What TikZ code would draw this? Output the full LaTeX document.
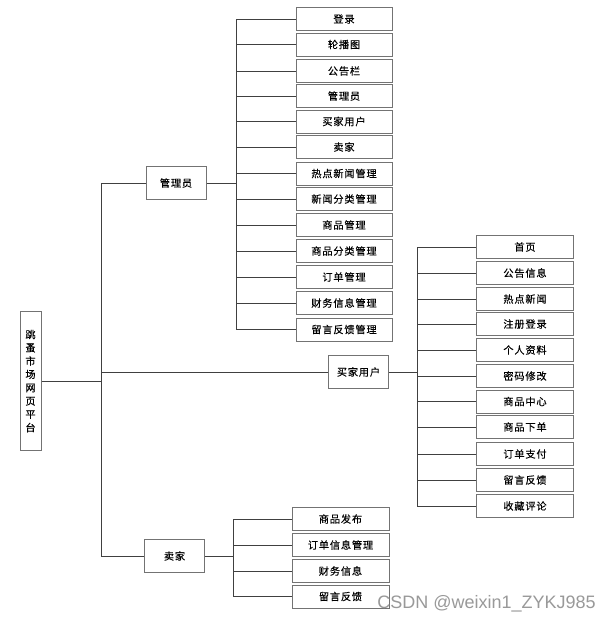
\documentclass[tikz,border=0pt]{standalone}
\usepackage{fontspec}
\newfontfamily\cjk[LetterSpace=8,FakeBold=0.3]{Noto Sans CJK SC}
\setmainfont{Liberation Sans}
\begin{document}
\begin{tikzpicture}[x=1pt,y=-1pt,
  box/.style={draw=black!55,line width=1pt,minimum height=23pt,inner sep=0pt,font=\cjk\fontsize{10.2}{12}\selectfont,fill=white},
  leaf/.style={box,minimum width=97pt},
  mid/.style={box,minimum width=60pt,minimum height=33pt},
  conn/.style={draw=black!75,line width=0.8pt}]
\useasboundingbox[fill=white] (0,0) rectangle (612,622);
% root
\node[box,minimum width=21pt,minimum height=139pt,align=center,font=\cjk\fontsize{10.2}{13.3}\selectfont] (root) at (30.5,381) {跳\\蚤\\市\\场\\网\\页\\平\\台};
% level 1
\node[mid] (mgr) at (176,183) {管理员};
\node[mid] (buy) at (358.5,372) {买家用户};
\node[mid] (sell) at (174.5,556) {卖家};
\coordinate (tx) at (101,0);
\coordinate (ax) at (236,0);
\coordinate (bx) at (417,0);
\coordinate (sx) at (233,0);
% admin leaves
\foreach \n/\y/\t in {1/19/登录,2/44.5/轮播图,3/71/公告栏,4/96/管理员,5/121.5/买家用户,6/147/卖家,7/173.5/热点新闻管理,8/199/新闻分类管理,9/225/商品管理,10/251/商品分类管理,11/277/订单管理,12/303/财务信息管理,13/329.5/留言反馈管理}{
  \node[leaf,minimum width=96pt] (a\n) at (344,\y) {\t};
  \draw[conn] (a\n.west) -- (a\n.west -| ax);
}
% buyer leaves
\foreach \n/\y/\t in {1/247/首页,2/273/公告信息,3/299/热点新闻,4/324/注册登录,5/350/个人资料,6/376/密码修改,7/401.5/商品中心,8/427/商品下单,9/454/订单支付,10/480/留言反馈,11/506/收藏评论}{
  \node[leaf] (b\n) at (525,\y) {\t};
  \draw[conn] (b\n.west) -- (b\n.west -| bx);
}
% seller leaves
\foreach \n/\y/\t in {1/519/商品发布,2/545/订单信息管理,3/571/财务信息,4/596.5/留言反馈}{
  \node[leaf] (s\n) at (340.5,\y) {\t};
  \draw[conn] (s\n.west) -- (s\n.west -| sx);
}
% trunks
\draw[conn] (root.east) -- (root.east -| tx);
\draw[conn] (mgr.west -| tx) -- (sell.west -| tx);
\draw[conn] (mgr.west) -- (mgr.west -| tx);
\draw[conn] (buy.west) -- (buy.west -| tx);
\draw[conn] (sell.west) -- (sell.west -| tx);
\draw[conn] (mgr.east) -- (mgr.east -| ax);
\draw[conn] (a1.west -| ax) -- (a13.west -| ax);
\draw[conn] (buy.east) -- (buy.east -| bx);
\draw[conn] (b1.west -| bx) -- (b11.west -| bx);
\draw[conn] (sell.east) -- (sell.east -| sx);
\draw[conn] (s1.west -| sx) -- (s4.west -| sx);
% watermark
\node[anchor=base east,text=black!40,font=\fontsize{18}{20}\selectfont,inner sep=0pt] (wm) at (596,608) {CSDN @weixin1\_ZYKJ985};
\end{tikzpicture}
\end{document}
